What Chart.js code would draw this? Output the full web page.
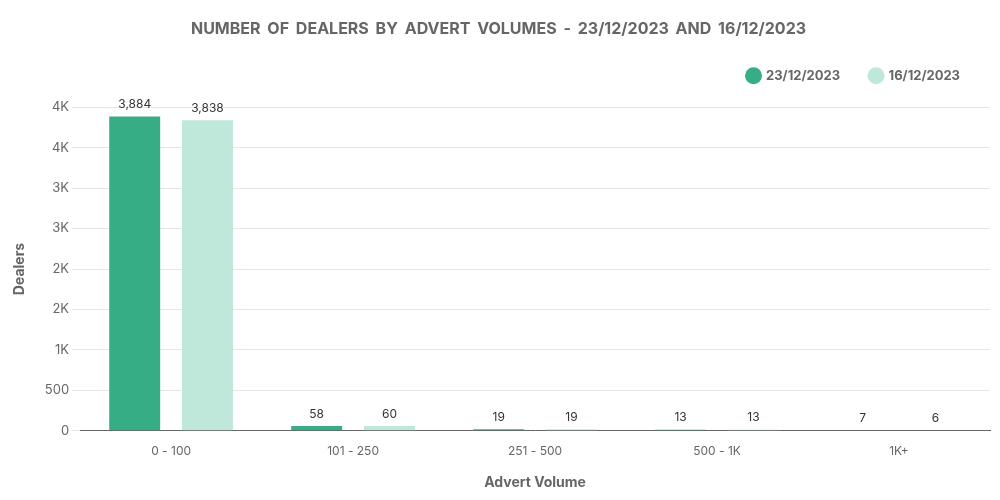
<!DOCTYPE html>
<html>
<head>
<meta charset="utf-8">
<script src="https://cdn.jsdelivr.net/npm/chart.js@4.4.0/dist/chart.umd.min.js"></script>
<style>
  html, body { margin: 0; padding: 0; background: #fff; }
  #wrap { width: 1000px; height: 500px; }
</style>
</head>
<body>
<div id="wrap"><canvas id="mycanvas"></canvas></div>
<script>
var categories = ['0 - 100', '101 - 250', '251 - 500', '500 - 1K', '1K+'];
var dealers2312 = [3884, 58, 19, 13, 7];
var dealers1612 = [3838, 60, 19, 13, 6];
var seriesNames = ['23/12/2023', '16/12/2023'];

// draws the value above each bar
var valueLabels = {
	id: 'valueLabels',
	afterDatasetsDraw: function(chart) {
		var ctx = chart.ctx;
		ctx.save();
		ctx.font = '12px Inter';
		ctx.fillStyle = '#333';
		ctx.textAlign = 'center';
		ctx.textBaseline = 'bottom';
		chart.data.datasets.forEach(function(ds, i) {
			chart.getDatasetMeta(i).data.forEach(function(bar, j) {
				ctx.fillText(ds.data[j].toLocaleString('en-US'), bar.x, bar.y - 6);
			});
		});
		ctx.restore();
	}
};

// more room under the legend, wider word gaps in the title
var tweaks = {
	id: 'tweaks',
	beforeInit: function(chart) {
		var fit = chart.legend.fit;
		chart.legend.fit = function() {
			fit.bind(chart.legend)();
			this.height += 15;
		};
		var draw = chart.titleBlock.draw;
		chart.titleBlock.draw = function() {
			chart.ctx.save();
			chart.ctx.wordSpacing = '3px';
			draw.apply(this, arguments);
			chart.ctx.restore();
		};
	}
};

var ctx = document.getElementById('mycanvas');
Chart.defaults.font.family = 'Inter';
Chart.defaults.color = '#666';

new Chart(ctx, {
	type: 'bar',
	data: {
		labels: categories,
		datasets: [
			{
				label: seriesNames[0],
				backgroundColor: '#36ad84',
				data: dealers2312
			},
			{
				label: seriesNames[1],
				backgroundColor: '#c0e8da',
				data: dealers1612
			}
		]
	},
	options: {
		responsive: true,
		maintainAspectRatio: false,
		animation: false,
		datasets: { bar: { barPercentage: 0.7, categoryPercentage: 0.8 } },
		layout: { padding: { left: 7, right: 10, top: 10, bottom: 5 } },
		plugins: {
			title: {
				display: true,
				text: 'NUMBER OF DEALERS BY ADVERT VOLUMES - 23/12/2023 AND 16/12/2023',
				font: { size: 16, weight: 'bold' },
				color: '#666',
				padding: { top: 10, bottom: 0 }
			},
			legend: {
				position: 'top',
				align: 'end',
				labels: {
					usePointStyle: true,
					pointStyle: 'circle',
					boxWidth: 12,
					boxHeight: 12,
					padding: 30,
					font: { size: 13, weight: 'bold' },
					color: '#666'
				}
			},
			tooltip: { enabled: false }
		},
		scales: {
			x: {
				grid: { display: false },
				border: { color: '#666' },
				ticks: { font: { size: 12 }, padding: 5 },
				title: { display: true, text: 'Advert Volume', font: { size: 14, weight: 'bold' }, padding: { top: 11 } }
			},
			y: {
				min: 0,
				max: 4000,
				ticks: {
					stepSize: 500,
					font: { size: 13 },
					callback: function(v) { return v >= 1000 ? Math.round(v / 1000) + 'K' : v; }
				},
				grid: { color: '#e6e6e6' },
				border: { display: false },
				title: { display: true, text: 'Dealers', font: { size: 14, weight: 'bold' }, padding: { top: 4, bottom: 14 } }
			}
		}
	},
	plugins: [valueLabels, tweaks]
});
</script>
</body>
</html>
